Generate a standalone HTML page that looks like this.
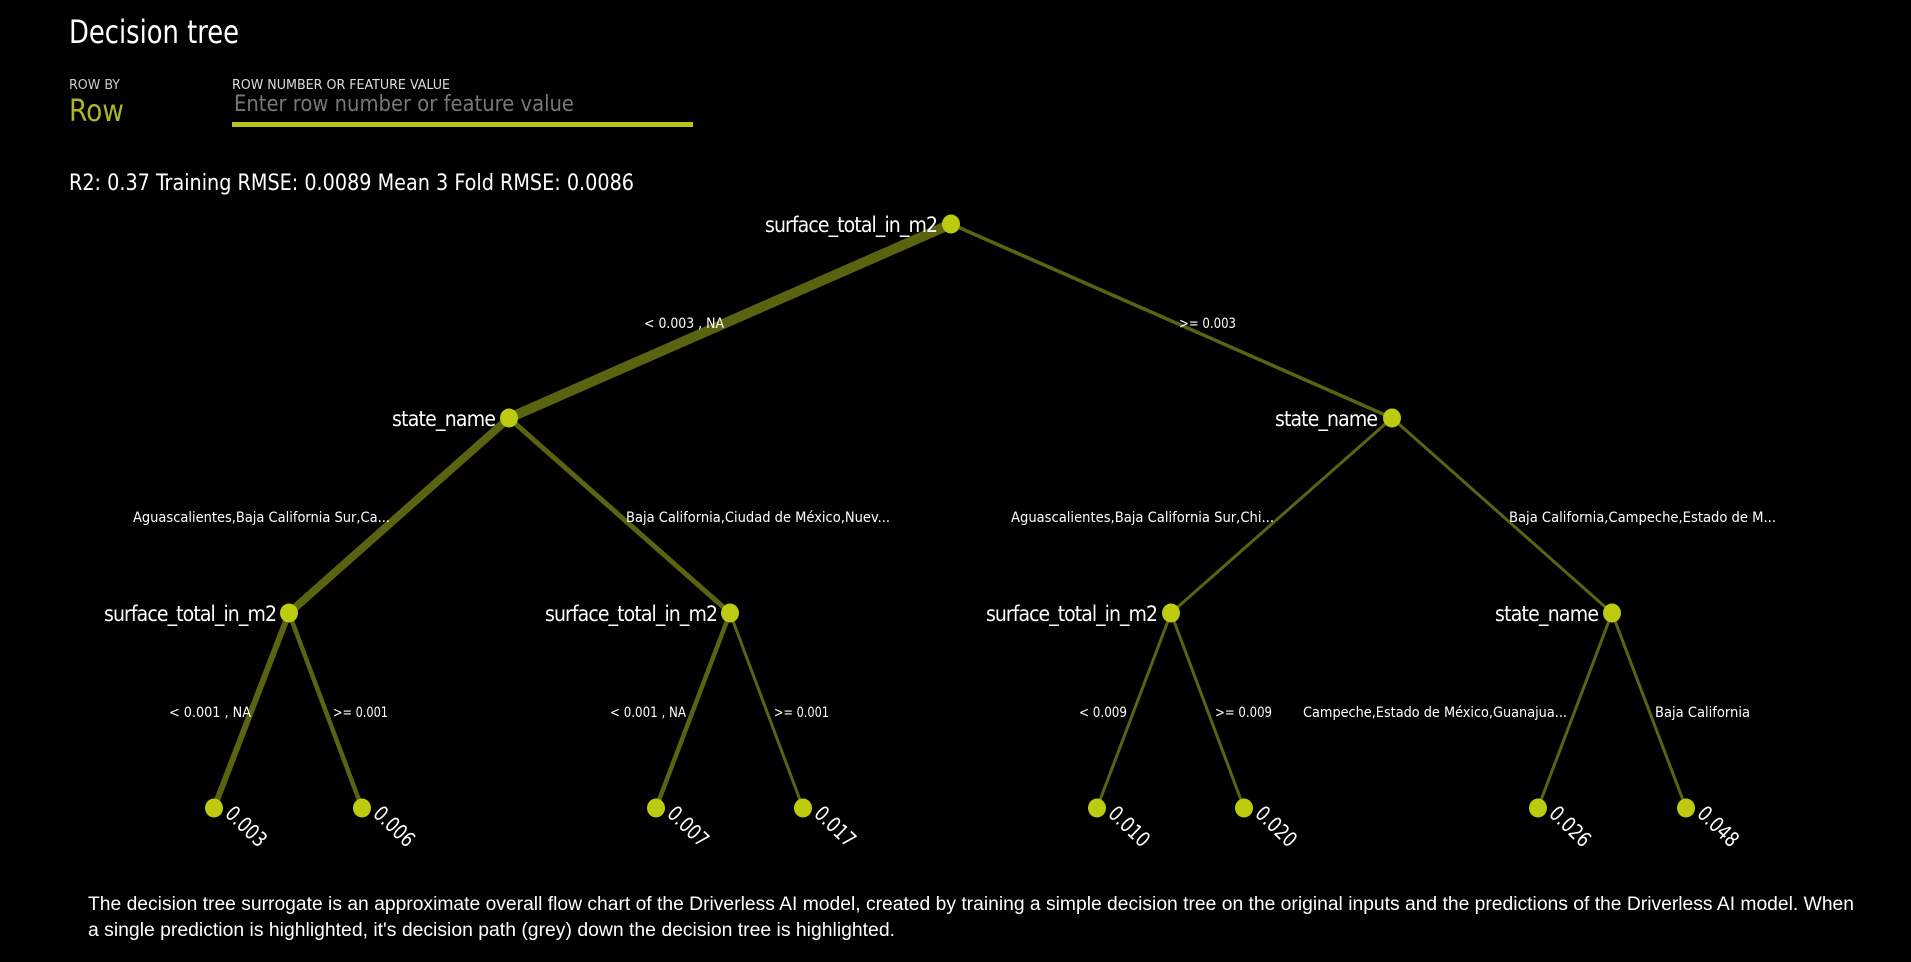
<!DOCTYPE html>
<html><head><meta charset="utf-8"><style>
html,body{margin:0;padding:0;background:#000;width:1911px;height:962px;overflow:hidden}
svg{display:block}
.c{font-family:"Liberation Sans Narrow","DejaVu Sans Condensed","Liberation Sans",sans-serif;fill:#fff}
</style></head><body>
<svg width="1911" height="962" viewBox="0 0 1911 962" xmlns="http://www.w3.org/2000/svg">
<text class="c" x="69" y="43" font-size="32" textLength="170" lengthAdjust="spacingAndGlyphs">Decision tree</text>
<text class="c" x="69" y="89" font-size="13" textLength="51" lengthAdjust="spacingAndGlyphs" style="fill:#ccc">ROW BY</text>
<text class="c" x="69" y="121" font-size="30" style="fill:#a9b52a" textLength="55" lengthAdjust="spacingAndGlyphs">Row</text>
<text class="c" x="232" y="89" font-size="13" style="fill:#ddd" textLength="218" lengthAdjust="spacingAndGlyphs">ROW NUMBER OR FEATURE VALUE</text>
<text class="c" x="234" y="111" font-size="22" style="fill:#777" textLength="340" lengthAdjust="spacingAndGlyphs">Enter row number or feature value</text>
<rect x="232" y="122" width="461" height="5" fill="#b8c41a"/>
<text class="c" x="69" y="190" font-size="22" textLength="565" lengthAdjust="spacingAndGlyphs">R2: 0.37 Training RMSE: 0.0089 Mean 3 Fold RMSE: 0.0086</text>

<g stroke="#5a6410" stroke-linecap="round" fill="none">
<line x1="951" y1="224" x2="509" y2="418" stroke-width="10"/>
<line x1="951" y1="224" x2="1392" y2="418" stroke-width="3.5"/>
<line x1="509" y1="418" x2="289" y2="613" stroke-width="8"/>
<line x1="509" y1="418" x2="730" y2="613" stroke-width="5"/>
<line x1="1392" y1="418" x2="1171" y2="613" stroke-width="3"/>
<line x1="1392" y1="418" x2="1612" y2="613" stroke-width="3"/>
<line x1="289" y1="613" x2="214" y2="808" stroke-width="6"/>
<line x1="289" y1="613" x2="362" y2="808" stroke-width="4.5"/>
<line x1="730" y1="613" x2="656" y2="808" stroke-width="4.5"/>
<line x1="730" y1="613" x2="803" y2="808" stroke-width="3"/>
<line x1="1171" y1="613" x2="1097" y2="808" stroke-width="3"/>
<line x1="1171" y1="613" x2="1244" y2="808" stroke-width="3"/>
<line x1="1612" y1="613" x2="1538" y2="808" stroke-width="3"/>
<line x1="1612" y1="613" x2="1686" y2="808" stroke-width="3"/>
</g>
<g fill="#bccb0f">
<ellipse cx="951" cy="224" rx="9" ry="9.5"/>
<ellipse cx="509" cy="418" rx="9" ry="9.5"/><ellipse cx="1392" cy="418" rx="9" ry="9.5"/>
<ellipse cx="289" cy="613" rx="9" ry="9.5"/><ellipse cx="730" cy="613" rx="9" ry="9.5"/>
<ellipse cx="1171" cy="613" rx="9" ry="9.5"/><ellipse cx="1612" cy="613" rx="9" ry="9.5"/>
<ellipse cx="214" cy="808" rx="9" ry="9.5"/><ellipse cx="362" cy="808" rx="9" ry="9.5"/>
<ellipse cx="656" cy="808" rx="9" ry="9.5"/><ellipse cx="803" cy="808" rx="9" ry="9.5"/>
<ellipse cx="1097" cy="808" rx="9" ry="9.5"/><ellipse cx="1244" cy="808" rx="9" ry="9.5"/>
<ellipse cx="1538" cy="808" rx="9" ry="9.5"/><ellipse cx="1686" cy="808" rx="9" ry="9.5"/>
</g>

<g class="c" font-size="21" lengthAdjust="spacingAndGlyphs">
<text class="c" x="765" y="232" textLength="173">surface_total_in_m2</text>
<text class="c" x="392" y="426" textLength="104">state_name</text>
<text class="c" x="1275" y="426" textLength="103">state_name</text>
<text class="c" x="104" y="621" textLength="173">surface_total_in_m2</text>
<text class="c" x="545" y="621" textLength="173">surface_total_in_m2</text>
<text class="c" x="986" y="621" textLength="172">surface_total_in_m2</text>
<text class="c" x="1495" y="621" textLength="104">state_name</text>
</g>

<g class="c" font-size="14">
<text class="c" x="644" y="328" textLength="80" lengthAdjust="spacingAndGlyphs">&lt; 0.003 , NA</text>
<text class="c" x="1179" y="328" textLength="57" lengthAdjust="spacingAndGlyphs">&gt;= 0.003</text>
<text class="c" x="133" y="522" textLength="257" lengthAdjust="spacingAndGlyphs">Aguascalientes,Baja California Sur,Ca...</text>
<text class="c" x="626" y="522" textLength="264" lengthAdjust="spacingAndGlyphs">Baja California,Ciudad de México,Nuev...</text>
<text class="c" x="1011" y="522" textLength="263" lengthAdjust="spacingAndGlyphs">Aguascalientes,Baja California Sur,Chi...</text>
<text class="c" x="1509" y="522" textLength="267" lengthAdjust="spacingAndGlyphs">Baja California,Campeche,Estado de M...</text>
<text class="c" x="169" y="717" textLength="82" lengthAdjust="spacingAndGlyphs">&lt; 0.001 , NA</text>
<text class="c" x="333" y="717" textLength="55" lengthAdjust="spacingAndGlyphs">&gt;= 0.001</text>
<text class="c" x="610" y="717" textLength="76" lengthAdjust="spacingAndGlyphs">&lt; 0.001 , NA</text>
<text class="c" x="774" y="717" textLength="55" lengthAdjust="spacingAndGlyphs">&gt;= 0.001</text>
<text class="c" x="1079" y="717" textLength="48" lengthAdjust="spacingAndGlyphs">&lt; 0.009</text>
<text class="c" x="1215" y="717" textLength="57" lengthAdjust="spacingAndGlyphs">&gt;= 0.009</text>
<text class="c" x="1303" y="717" textLength="264" lengthAdjust="spacingAndGlyphs">Campeche,Estado de México,Guanajua...</text>
<text class="c" x="1655" y="717" textLength="95" lengthAdjust="spacingAndGlyphs">Baja California</text>
</g>

<g class="c" font-size="21">
<text class="c" transform="translate(224,815) rotate(44)" textLength="48" lengthAdjust="spacingAndGlyphs">0.003</text>
<text class="c" transform="translate(372,815) rotate(44)" textLength="48" lengthAdjust="spacingAndGlyphs">0.006</text>
<text class="c" transform="translate(666,815) rotate(44)" textLength="48" lengthAdjust="spacingAndGlyphs">0.007</text>
<text class="c" transform="translate(813,815) rotate(44)" textLength="48" lengthAdjust="spacingAndGlyphs">0.017</text>
<text class="c" transform="translate(1107,815) rotate(44)" textLength="48" lengthAdjust="spacingAndGlyphs">0.010</text>
<text class="c" transform="translate(1254,815) rotate(44)" textLength="48" lengthAdjust="spacingAndGlyphs">0.020</text>
<text class="c" transform="translate(1548,815) rotate(44)" textLength="48" lengthAdjust="spacingAndGlyphs">0.026</text>
<text class="c" transform="translate(1696,815) rotate(44)" textLength="48" lengthAdjust="spacingAndGlyphs">0.048</text>
</g>

<text x="88" y="910" font-family="Liberation Sans Narrow, Liberation Sans, sans-serif" font-size="19" fill="#fff" textLength="1766" lengthAdjust="spacingAndGlyphs">The decision tree surrogate is an approximate overall flow chart of the Driverless AI model, created by training a simple decision tree on the original inputs and the predictions of the Driverless AI model. When</text>
<text x="88" y="936" font-family="Liberation Sans Narrow, Liberation Sans, sans-serif" font-size="19" fill="#fff" textLength="807" lengthAdjust="spacingAndGlyphs">a single prediction is highlighted, it's decision path (grey) down the decision tree is highlighted.</text>
</svg>
</body></html>
